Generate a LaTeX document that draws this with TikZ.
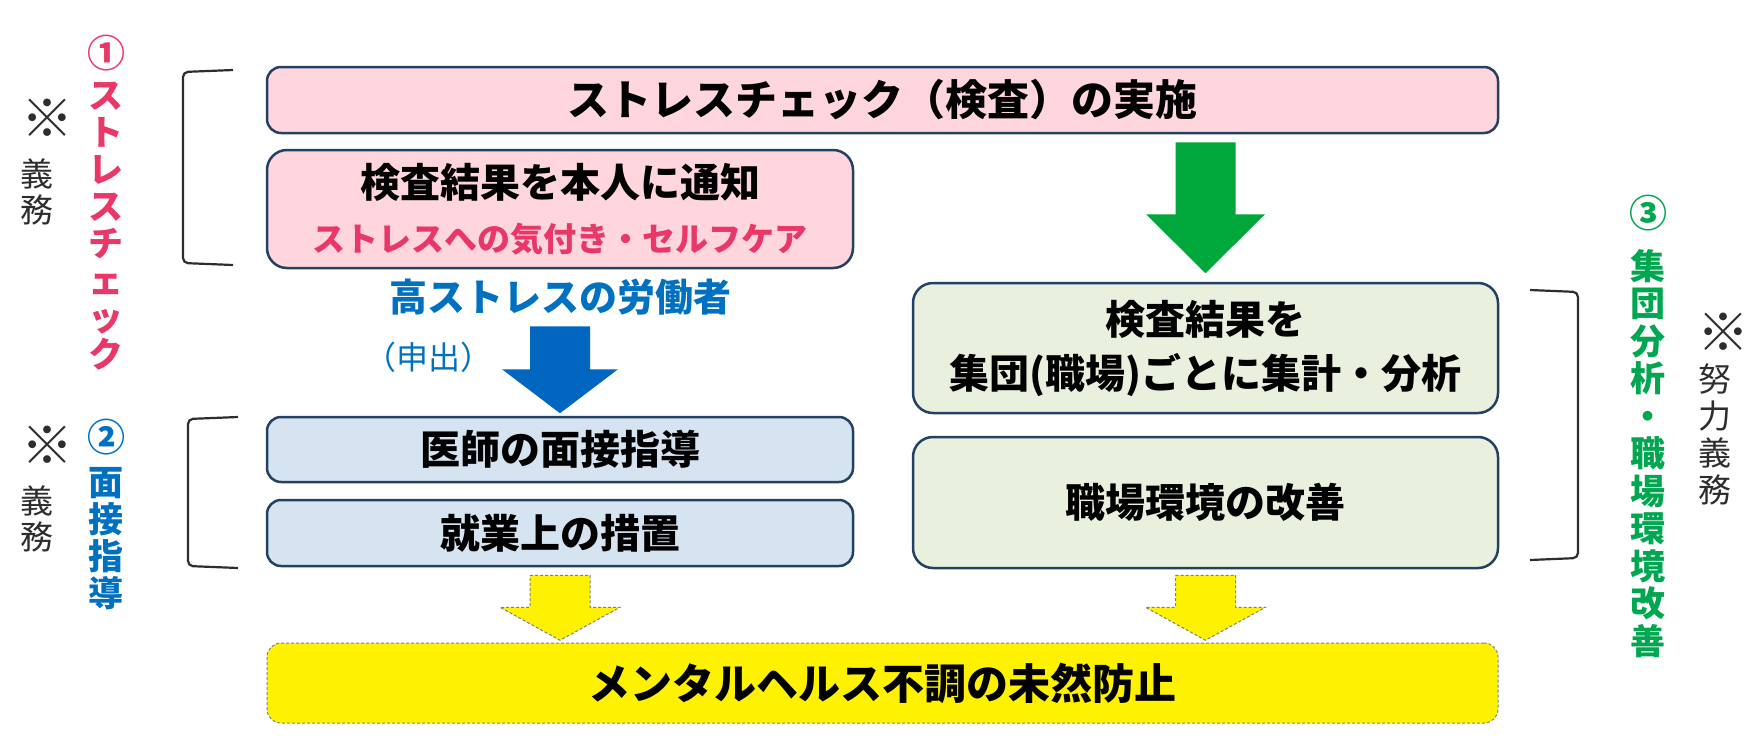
\documentclass[tikz,border=0pt]{standalone}
\usepackage{fontspec}
\setmainfont{Noto Sans CJK JP}
\usepackage{tikz}
\usetikzlibrary{calc}

\definecolor{pinkfill}{RGB}{255,214,222}
\definecolor{bluefill}{RGB}{214,227,240}
\definecolor{greenfill}{RGB}{234,240,222}
\definecolor{framenavy}{RGB}{36,64,98}
\definecolor{pinktext}{RGB}{233,56,104}
\definecolor{bluetext}{RGB}{0,112,192}
\definecolor{greentext}{RGB}{0,166,80}
\definecolor{arrowgreen}{RGB}{0,168,60}
\definecolor{arrowblue}{RGB}{0,102,192}
\definecolor{notegray}{RGB}{45,45,45}

\begin{document}
\begin{tikzpicture}[x = 1pt, y = -1pt,
        box/.style = {shape = rectangle, draw = framenavy, line width = 2.5pt, rounded corners = 14pt, align = center, inner sep = 0pt, font = \bfseries\fontsize{40}{54}\selectfont},
        vlabel/.style = {align = center, inner sep = 0pt, font = \bfseries\fontsize{35}{37}\selectfont},
        numlabel/.style = {inner sep = 0pt, font = \bfseries\fontsize{38}{38}\selectfont},
        note/.style = {align = center, inner sep = 0pt, text = notegray, font = \fontsize{33}{36}\selectfont},
        refmark/.style = {inner sep = 0pt, text = notegray, font = \fontsize{52}{52}\selectfont},
        bracket/.style = {draw = notegray, line width = 2.2pt, rounded corners = 5pt},
        yellowarrow/.style = {fill = yellow, draw = gray, line width = 1pt, densely dashed}]
    \useasboundingbox (0, 0) rectangle (1757, 747);

    \node [box, fill = pinkfill, minimum width = 1231pt, minimum height = 66pt, font = \bfseries\fontsize{42}{46}\selectfont] (check) at (882.5, 100) {ストレスチェック（検査）の実施};
    \node [box, fill = pinkfill, minimum width = 586pt, minimum height = 118pt, rounded corners = 20pt] (notify) at (560, 209) {検査結果を本人に通知\\{\color{pinktext}\fontsize{33}{34}\selectfont ストレスへの気付き・セルフケア}};
    \node [inner sep = 0pt, text = bluetext, font = \bfseries\fontsize{38}{40}\selectfont] (highstress) at (560, 297) {高ストレスの労働者};
    \node [inner sep = 0pt, text = bluetext, font = \fontsize{32}{34}\selectfont] (request) at (428, 357) {（申出）};
    \node [box, fill = bluefill, minimum width = 586pt, minimum height = 65pt] (interview) at (560, 449.5) {医師の面接指導};
    \node [box, fill = bluefill, minimum width = 586pt, minimum height = 66pt] (measure) at (560, 533) {就業上の措置};
    \node [box, fill = greenfill, minimum width = 585pt, minimum height = 130pt, rounded corners = 20pt] (analyse) at (1205.5, 348) {検査結果を\\集団(職場)ごとに集計・分析};
    \node [box, fill = greenfill, minimum width = 585pt, minimum height = 131pt, rounded corners = 20pt] (improve) at (1205.5, 502.5) {職場環境の改善};
    \node [box, fill = yellow, draw = gray, line width = 1pt, densely dashed, minimum width = 1231pt, minimum height = 80pt, font = \bfseries\fontsize{42}{46}\selectfont] (prevent) at (882.5, 683) {メンタルヘルス不調の未然防止};

    \node [numlabel, text = pinktext] (one) at (106, 53) {①};
    \node [vlabel, text = pinktext] (stresslabel) at (106, 226.5) {ス\\ト\\レ\\ス\\チ\\ェ\\ッ\\ク};
    \node [refmark] (mark1) at (47, 118) {※};
    \node [note] (duty1) at (37, 192) {義\\務};
    \node [numlabel, text = bluetext] (two) at (106, 437) {②};
    \node [vlabel, text = bluetext] (interviewlabel) at (106, 539) {面\\接\\指\\導};
    \node [refmark] (mark2) at (47, 445) {※};
    \node [note] (duty2) at (37, 519) {義\\務};
    \node [numlabel, text = greentext] (three) at (1648, 213) {③};
    \node [vlabel, text = greentext, font = \bfseries\fontsize{35}{37.5}\selectfont] (grouplabel) at (1648, 453.5) {集\\団\\分\\析\\・\\職\\場\\環\\境\\改\\善};
    \node [refmark] (mark3) at (1723, 332) {※};
    \node [note, font = \fontsize{33}{37}\selectfont] (duty3) at (1715, 434) {努\\力\\義\\務};

    \draw [bracket] (233, 70) -- (183, 72) -- (183, 263) -- (233, 265);
    \draw [bracket] (238, 417) -- (188, 419) -- (188, 566) -- (238, 568);
    \draw [bracket] (1530, 290) -- (1578, 292) -- (1578, 558) -- (1530, 560);

    \fill [arrowgreen] ($(check.south -| analyse.north) + (-30, 8)$) -- ++(60, 0) -- ++(0, 72) -- ++(29.5, 0) -- ++(-59.5, 59) -- ++(-59.5, -59) -- ++(29.5, 0) -- cycle;
    \fill [arrowblue] ($(notify.south) + (-30, 57)$) -- ++(60, 0) -- ++(0, 43) -- ++(28, 0) -- ++(-58, 44) -- ++(-58, -44) -- ++(28, 0) -- cycle;
    \draw [yellowarrow] ($(measure.south) + (-30, 8)$) -- ++(60, 0) -- ++(0, 32) -- ++(30, 0) -- ++(-60, 33) -- ++(-60, -33) -- ++(30, 0) -- cycle;
    \draw [yellowarrow] ($(improve.south) + (-30, 6)$) -- ++(60, 0) -- ++(0, 32) -- ++(30, 0) -- ++(-60, 33) -- ++(-60, -33) -- ++(30, 0) -- cycle;
\end{tikzpicture}
\end{document}
